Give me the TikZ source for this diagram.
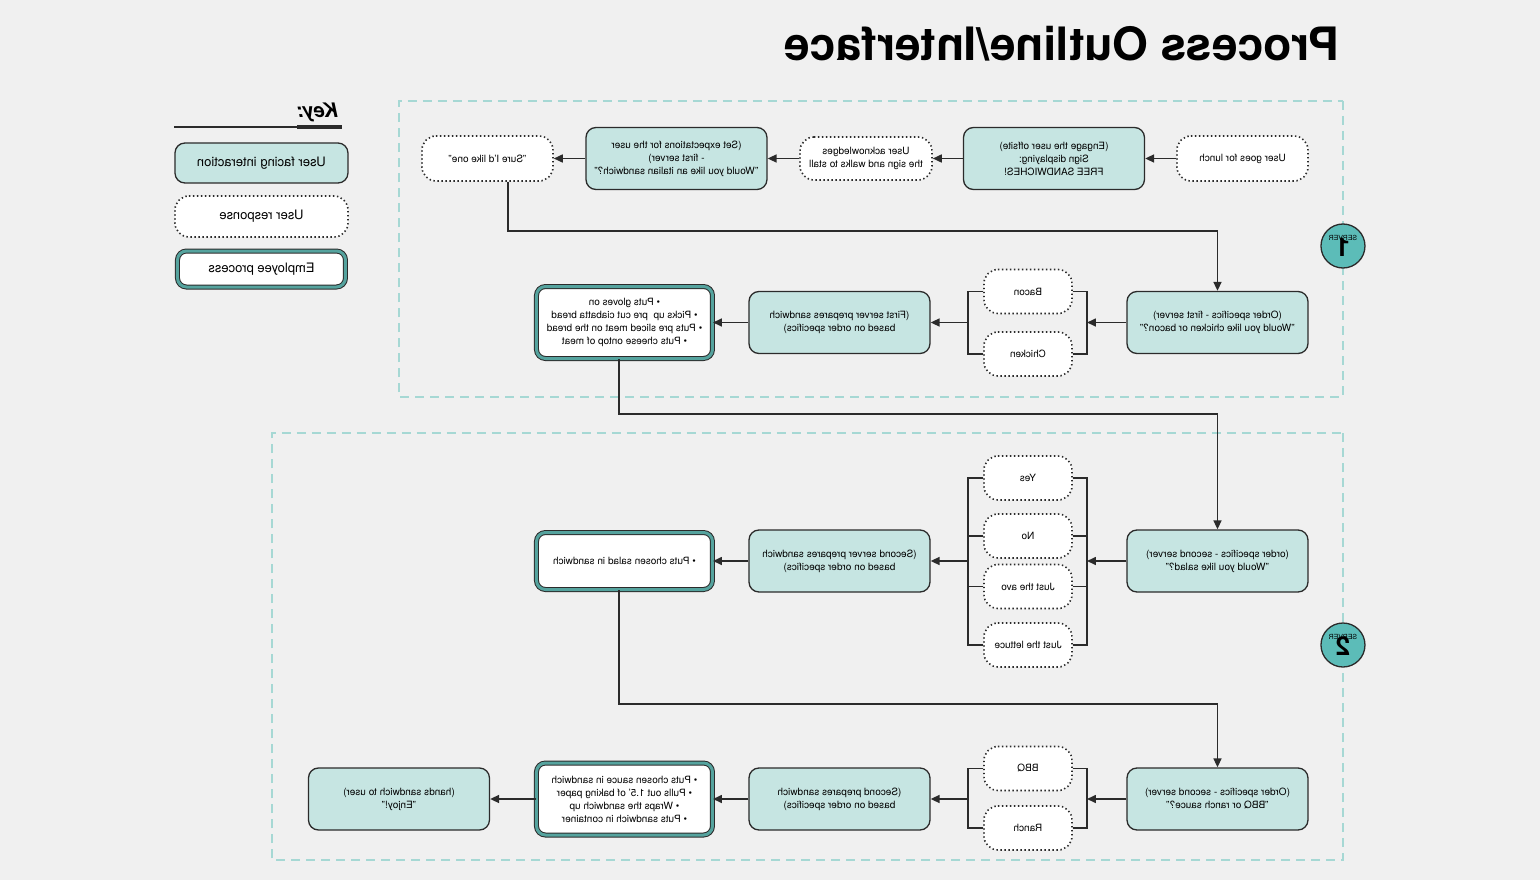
\documentclass[tikz,border=0pt]{standalone}
\usepackage{fontspec}
\setmainfont{TeX Gyre Heros}
\usetikzlibrary{arrows.meta}

\definecolor{paper}{HTML}{F0F0F0}
\definecolor{mint}{HTML}{C6E5E2}
\definecolor{ink}{HTML}{2B2B2B}
\definecolor{band}{HTML}{55A39E}
\definecolor{badge}{HTML}{5CBCB8}
\definecolor{zoneline}{HTML}{A6D8D4}

\begin{document}
\begin{tikzpicture}[x=1pt,y=-1pt,xscale=-1,
  every node/.append style={transform shape},
  txt/.style={font=\fontsize{10}{13}\selectfont,align=center,inner sep=2pt},
  face/.style={txt,draw=ink,fill=mint,line width=1.3pt,rounded corners=10pt,minimum width=181pt,minimum height=62pt},
  reply/.style={txt,draw=ink,fill=white,line width=1.6pt,dash pattern=on 1.4pt off 2.6pt,rounded corners=14pt,minimum width=88pt,minimum height=44pt},
  staff/.style={txt,draw=ink,double=band,double distance=3pt,line width=1pt,fill=white,rounded corners=9pt,minimum width=176pt,minimum height=72pt},
  zone/.style={draw=zoneline,line width=1.2pt,dash pattern=on 9pt off 6pt},
  flow/.style={-{Triangle[length=9pt,width=8pt]},line width=1.6pt,draw=ink},
  tie/.style={line width=1.3pt,draw=ink},
  srv/.style={circle,draw=ink,fill=badge,line width=1.3pt,minimum size=44pt,inner sep=0pt,align=center}]

\fill[paper] (0,0) rectangle (1540,880);
\useasboundingbox (0,0) rectangle (1540,880);

% the two server areas
\draw[zone] (197,101) rectangle (1141,397);
\draw[zone] (197,433) rectangle (1268,860);

\node[anchor=west,inner sep=0pt,font=\fontsize{46}{46}\bfseries\selectfont] (title) at (200,44) {Process Outline/Interface};

% key
\node[anchor=east,inner sep=0pt,font=\fontsize{20}{20}\bfseries\itshape\selectfont] (key) at (1243,112) {Key:};
\draw[ink,line width=2pt] (1198,127) -- (1366,127);
\draw[ink,line width=3.5pt] (1198,127) -- (1243,127);
\node[face,minimum width=173pt,minimum height=40pt,font=\fontsize{13}{15}\selectfont] (kface) at (1278.5,163) {User facing interaction};
\node[reply,minimum width=173pt,minimum height=41pt,font=\fontsize{13}{15}\selectfont] (kreply) at (1278.5,216.5) {User response};
\node[staff,minimum width=168pt,minimum height=36pt,font=\fontsize{13}{15}\selectfont] (kstaff) at (1278.5,269) {Employee process};

% server 1
\node[reply,minimum width=131pt,minimum height=45pt] (lunch) at (297.5,158.5) {User goes for lunch};
\node[face] (engage) at (486,158.5) {(Engage the user offsite)\\Sign displaying:\\FREE SANDWICHES!};
\node[reply,minimum width=132pt,minimum height=43pt] (ack) at (674,158.5) {User acknowledges\\the sign and walks to stall};
\node[face] (expect) at (863.5,158.5) {(Set expectations for the user\\- first server)\\"Would you like an italian sandwich?"};
\node[reply,minimum width=131pt,minimum height=45pt] (sure) at (1052.5,158.5) {"Sure I'd like one"};
\draw[flow] (lunch) -- (engage);
\draw[flow] (engage) -- (ack);
\draw[flow] (ack) -- (expect);
\draw[flow] (expect) -- (sure);

\node[face] (order1) at (322.5,322.5) {(Order specifics - first server)\\"Would you like chicken or bacon?"};
\node[reply] (bacon) at (512,291.5) {Bacon};
\node[reply] (chicken) at (512,354) {Chicken};
\node[face] (prep1) at (700.5,322.5) {(First server prepares sandwich\\based on order specifics)};
\node[staff] (staff1) at (915.5,322.5) {\textbullet{} Puts gloves on\\\textbullet{} Picks up\ \ pre cut ciabatta bread\\\textbullet{} Puts pre sliced meat on the bread\\\textbullet{} Puts cheese ontop of meat};
\coordinate (in1) at (453,322.5);
\coordinate (out1) at (572,322.5);
\draw[tie] (bacon.west) -| (in1) |- (chicken.west);
\draw[tie] (bacon.east) -| (out1) |- (chicken.east);
\draw[flow] (order1) -- (in1);
\draw[flow] (out1) -- (prep1);
\draw[flow] (prep1) -- (staff1);

\coordinate (k1) at (1032,231);
\draw[flow] (sure.south -| k1) -- (k1) -| (order1.north);

% server 2
\node[face] (order2) at (322.5,561) {(order specifics - second server)\\"Would you like salad?"};
\node[reply] (yes) at (512,478) {Yes};
\node[reply] (no) at (512,536) {No};
\node[reply] (avo) at (512,586.5) {Just the avo};
\node[reply] (lettuce) at (512,645) {Just the lettuce};
\node[face] (prep2) at (700.5,561) {(Second server prepares sandwich\\based on order specifics)};
\node[staff,minimum height=57pt] (staff2) at (915.5,561) {\textbullet{} Puts chosen salad in sandwich};
\coordinate (in2) at (453,561);
\coordinate (out2) at (572,561);
\draw[tie] (yes.west) -| (in2) |- (lettuce.west);
\draw[tie] (yes.east) -| (out2) |- (lettuce.east);
\foreach \opt in {no,avo}{
  \draw[tie] (\opt.west) -- (\opt.west -| in2);
  \draw[tie] (\opt.east) -- (\opt.east -| out2);
}
\draw[flow] (order2) -- (in2);
\draw[flow] (out2) -- (prep2);
\draw[flow] (prep2) -- (staff2);

\coordinate (k2) at (921,414);
\draw[flow] (staff1.south -| k2) -- (k2) -| (order2.north);

\node[face] (order3) at (322.5,799) {(Order specifics - second server)\\"BBQ or ranch sauce?"};
\node[reply] (bbq) at (512,768.5) {BBQ};
\node[reply] (ranch) at (512,828) {Ranch};
\node[face] (prep3) at (700.5,799) {(Second prepares sandwich\\based on order specifics)};
\node[staff] (staff3) at (915.5,799) {\textbullet{} Puts chosen sauce in sandwich\\\textbullet{} Pulls out 1.5' of baking paper\\\textbullet{} Wraps the sandwich up\\\textbullet{} Puts sandwich in container};
\node[face] (hand) at (1141,799) {(hands sandwich to user)\\"Enjoy!"};
\coordinate (in3) at (453,799);
\coordinate (out3) at (572,799);
\draw[tie] (bbq.west) -| (in3) |- (ranch.west);
\draw[tie] (bbq.east) -| (out3) |- (ranch.east);
\draw[flow] (order3) -- (in3);
\draw[flow] (out3) -- (prep3);
\draw[flow] (prep3) -- (staff3);
\draw[flow] (staff3) -- (hand);

\coordinate (k3) at (921,704);
\draw[flow] (staff2.south -| k3) -- (k3) -| (order3.north);

% server badges on the zone edge
\node[srv] (srv1) at (197,246) {{\fontsize{7}{7}\selectfont SERVER}\\[-4pt]{\fontsize{26}{24}\bfseries\selectfont 1}};
\node[srv] (srv2) at (197,645) {{\fontsize{7}{7}\selectfont SERVER}\\[-4pt]{\fontsize{26}{24}\bfseries\selectfont 2}};
\end{tikzpicture}
\end{document}
